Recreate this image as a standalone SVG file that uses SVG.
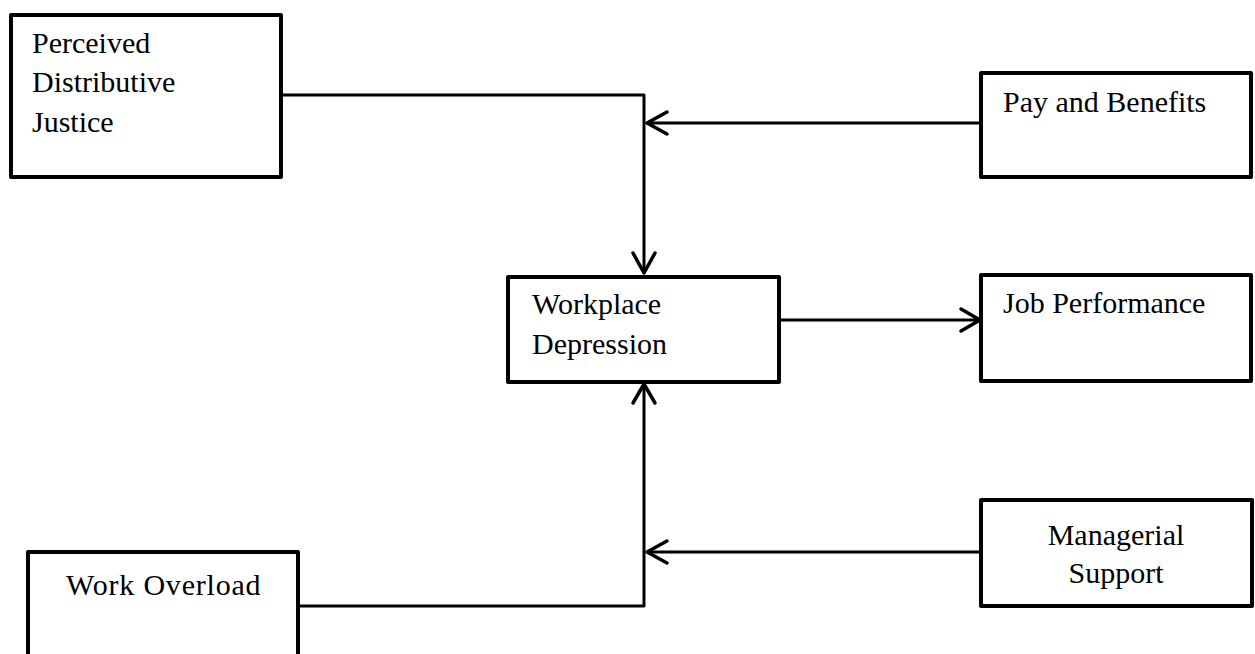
<svg xmlns="http://www.w3.org/2000/svg" width="1255" height="654" viewBox="0 0 1255 654">
<style>
.box{fill:#fff;stroke:#000;stroke-width:4;stroke-linejoin:round}
.t{font-family:"Liberation Serif","Times New Roman",serif;font-size:30px;fill:#000}
.c{fill:none;stroke:#000;stroke-width:3;stroke-linejoin:round}
.ah{fill:none;stroke:#000;stroke-width:3.5;stroke-linecap:round;stroke-linejoin:round}
</style>
<rect width="1255" height="654" fill="#fff"/>
<g id="connectors">
<path class="c" d="M281 95 H644 V272"/>
<path class="ah" d="M633 253 L644 273 L655 253"/>
<path class="c" d="M981 123 H648"/>
<path class="ah" d="M667 112 L647 123 L667 134"/>
<path class="c" d="M298 606 H644 V385"/>
<path class="ah" d="M633 403 L644 384 L655 403"/>
<path class="c" d="M981 552 H648"/>
<path class="ah" d="M667 541 L647 552 L667 563"/>
<path class="c" d="M779 320 H978"/>
<path class="ah" d="M961 309 L980 320 L961 331"/>
</g>
<g id="perceived">
<rect class="box" x="11" y="15" width="270" height="162"/>
<text class="t" x="32" y="53">Perceived</text>
<text class="t" x="32" y="92">Distributive</text>
<text class="t" x="32" y="132">Justice</text>
</g>
<g id="pay">
<rect class="box" x="981" y="73" width="270" height="104"/>
<text class="t" x="1003" y="112">Pay and Benefits</text>
</g>
<g id="workplace">
<rect class="box" x="508" y="277" width="271" height="105"/>
<text class="t" x="532" y="314">Workplace</text>
<text class="t" x="532" y="354">Depression</text>
</g>
<g id="job">
<rect class="box" x="981" y="275" width="270" height="106"/>
<text class="t" x="1003" y="313">Job Performance</text>
</g>
<g id="managerial">
<rect class="box" x="981" y="500" width="271" height="106"/>
<text class="t" x="1116" y="545" text-anchor="middle">Managerial</text>
<text class="t" x="1116" y="583" text-anchor="middle">Support</text>
</g>
<g id="overload">
<rect class="box" x="28" y="552" width="270" height="110"/>
<text class="t" x="66" y="595" letter-spacing="0.8">Work Overload</text>
</g>
</svg>
